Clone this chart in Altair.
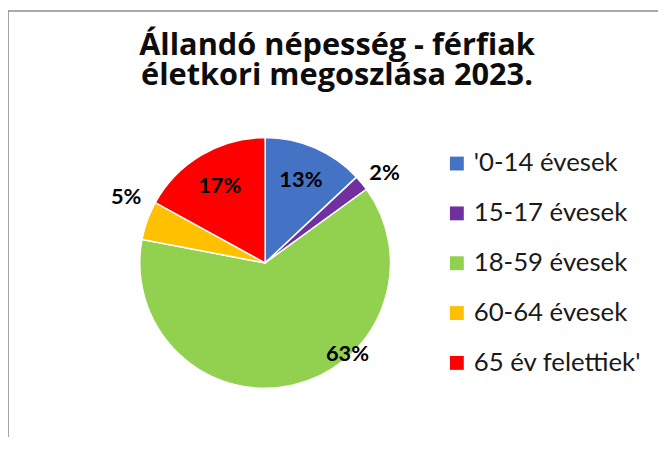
import altair as alt
import pandas as pd

# ---- data ----
categories = ["'0-14 évesek", "15-17 évesek", "18-59 évesek", "60-64 évesek", "65 év felettiek'"]
values = [13, 2, 63, 5, 17]
labels = ["13%", "2%", "63%", "5%", "17%"]
title_lines = ["Állandó népesség - férfiak", "életkori megoszlása 2023."]

# ---- styles ----
colors = ["#4472C4", "#7030A0", "#92D050", "#FFC000", "#FF0000"]
label_frac = [0.5, 0.86, 0.37, 0.8, 0.5]      # where along each slice the label sits
label_radius = [91, 151, 124, 155, 90]        # px from pie centre

W, H = 656, 428
CX, CY, R = 259.5, 254.3, 126.5

starts = [sum(values[:i]) for i in range(len(values))]
df = pd.DataFrame({
    "cat": categories,
    "val": values,
    "lab": labels,
    "idx": list(range(len(values))),
    "lab_theta": [s + f * v for s, f, v in zip(starts, label_frac, values)],
    "lab_r": label_radius,
})

base = alt.Chart(df)

pie = base.mark_arc(outerRadius=R, stroke="white", strokeWidth=1.5).encode(
    theta=alt.Theta("val:Q", stack=True),
    color=alt.Color(
        "cat:N",
        scale=alt.Scale(domain=categories, range=colors),
        sort=categories,
        legend=alt.Legend(
            title=None, orient="none", legendX=440, legendY=141,
            symbolType="square", symbolSize=196, symbolStrokeWidth=0,
            labelFont="Lato", labelFontSize=26, labelColor="#1a1a1a",
            labelOffset=4, rowPadding=24.3, padding=0, labelLimit=300,
        ),
    ),
    order=alt.Order("idx:Q"),
    x=alt.value(CX), y=alt.value(CY),
)

text = base.mark_text(font="Lato", fontSize=22, fontWeight="bold", color="black").encode(
    theta=alt.Theta("lab_theta:Q", stack=None, scale=alt.Scale(domain=[0, 100])),
    radius=alt.Radius("lab_r:Q", scale=None),
    text="lab:N",
    x=alt.value(CX), y=alt.value(CY),
)

frame_df = pd.DataFrame({"a": [0]})
left_rule = alt.Chart(frame_df).mark_rule(color="#8c8c8c", strokeWidth=1.6).encode(
    x=alt.value(0), y=alt.value(0), y2=alt.value(H + 20)
)
top_rule = alt.Chart(frame_df).mark_rule(color="#8c8c8c", strokeWidth=1.6).encode(
    x=alt.value(0), x2=alt.value(W + 20), y=alt.value(0)
)

chart = alt.layer(pie, text, left_rule, top_rule).properties(
    width=W, height=H,
    autosize=alt.AutoSizeParams(type="none"),
    padding={"left": 0, "top": 1, "right": 0, "bottom": 0},
    title=alt.TitleParams(
        text=title_lines, font="Open Sans", fontSize=31, fontWeight="bold",
        color="#0d0d0d", anchor="middle", dx=4, dy=107, lineHeight=30.5,
        baseline="alphabetic", offset=0,
    ),
).configure_view(strokeWidth=0)

chart.save("out.html", embed_options={"renderer": "svg", "actions": False})
